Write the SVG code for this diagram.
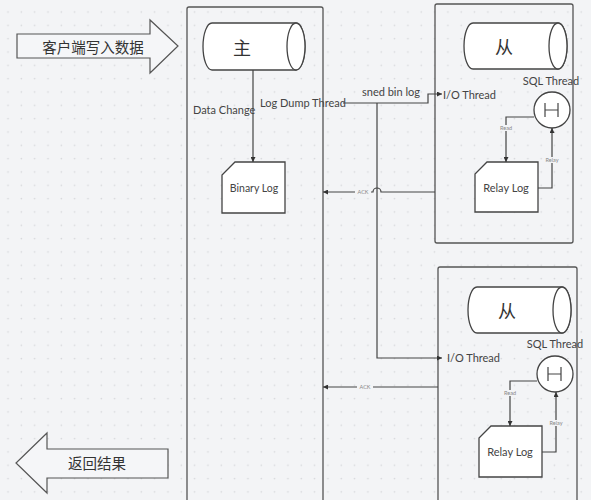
<svg xmlns="http://www.w3.org/2000/svg" width="591" height="500" viewBox="0 0 591 500">
<defs>
<pattern id="dots" x="0" y="0" width="13.33" height="13.33" patternUnits="userSpaceOnUse">
<circle cx="8" cy="12" r="0.8" fill="#d6d7da"/>
</pattern>
<marker id="arr" viewBox="0 0 6 6" refX="6" refY="3" markerWidth="5" markerHeight="5" orient="auto" markerUnits="userSpaceOnUse">
<path d="M0,0 L6,3 L0,6 Z" fill="#333"/>
</marker>
<style>
.box{fill:none;stroke:#555;stroke-width:1.3}
.shape{fill:#fff;stroke:#444;stroke-width:1.3}
.big{fill:#f5f6f8;stroke:#555;stroke-width:1.2}
.ln{fill:none;stroke:#444;stroke-width:1.2}
.t{font-family:Lato,"Open Sans","Noto Sans",sans-serif;fill:#444;font-size:11px}
.cn{font-family:"Noto Sans CJK SC",sans-serif;fill:#333;font-size:14.5px}
.sm{font-family:Lato,"Noto Sans",sans-serif;fill:#888;font-size:5.5px}
</style>
</defs>
<rect width="591" height="500" fill="#f3f4f6"/>
<rect width="591" height="500" fill="url(#dots)"/>

<g id="client-write">
<polygon class="big" points="17,34 150,34 150,20 178,46 150,73 150,58 17,58"/>
<text class="cn" x="93" y="53" text-anchor="middle">客户端写入数据</text>
</g>
<g id="return-result">
<polygon class="big" points="168,449 47,449 47,433 16,463 47,493 47,478 168,478"/>
<text class="cn" x="97" y="469" text-anchor="middle">返回结果</text>
</g>

<g id="master">
<rect class="box" x="187" y="7" width="136" height="500" rx="2"/>
<path class="shape" d="M212,23 L296,23 A9,23.5 0 0 1 296,70 L212,70 A9,23.5 0 0 1 212,23 Z"/>
<ellipse class="shape" cx="296" cy="46.5" rx="9" ry="23.5"/>
<text class="cn" x="242" y="55" text-anchor="middle" style="font-size:18px">主</text>
</g>
<g id="binary-log">
<path class="shape" d="M235,162 L285,162 L285,213 L222,213 L222,175 Z"/>
<text class="t" x="254" y="192" text-anchor="middle" style="font-size:10.5px">Binary Log</text>
</g>

<g id="slave1">
<rect class="box" x="435" y="4" width="138" height="239" rx="2"/>
<path class="shape" d="M473,23 L558,23 A9,23 0 0 1 558,69 L473,69 A9,23 0 0 1 473,23 Z"/>
<ellipse class="shape" cx="558" cy="46" rx="9" ry="23"/>
<text class="cn" x="504" y="54" text-anchor="middle" style="font-size:18px">从</text>
<text class="t" x="551" y="85" text-anchor="middle">SQL Thread</text>
<text class="t" x="443" y="99">I/O Thread</text>
</g>
<g id="sql-thread1">
<circle class="shape" cx="552" cy="110" r="18"/>
<path class="ln" d="M545,103 V117 M558,103 V117 M545,110 H558"/>
</g>
<g id="relay-log1">
<path class="shape" d="M487,162 L538,162 L538,212 L475,212 L475,174 Z"/>
<text class="t" x="506" y="192" text-anchor="middle">Relay Log</text>
</g>

<g id="slave2">
<rect class="box" x="438" y="267" width="139" height="240" rx="2"/>
<path class="shape" d="M477,287 L562,287 A9,23 0 0 1 562,333 L477,333 A9,23 0 0 1 477,287 Z"/>
<ellipse class="shape" cx="562" cy="310" rx="9" ry="23"/>
<text class="cn" x="507" y="318" text-anchor="middle" style="font-size:18px">从</text>
<text class="t" x="555" y="348" text-anchor="middle">SQL Thread</text>
<text class="t" x="447" y="362">I/O Thread</text>
</g>
<g id="sql-thread2">
<circle class="shape" cx="555" cy="374" r="18"/>
<path class="ln" d="M548,367 V381 M561,367 V381 M548,374 H561"/>
</g>
<g id="relay-log2">
<path class="shape" d="M491,426 L542,426 L542,477 L479,477 L479,438 Z"/>
<text class="t" x="510" y="456" text-anchor="middle">Relay Log</text>
</g>

<g id="connectors">
<line class="ln" x1="253" y1="70" x2="253" y2="162" marker-end="url(#arr)"/>
<text class="t" x="193" y="114">Data Change</text>
<text class="t" x="260" y="107">Log Dump Thread</text>
<polyline class="ln" points="343,103 428,103 428,94 442,94" marker-end="url(#arr)"/>
<text class="t" x="362" y="96">sned bin log</text>
<polyline class="ln" points="377,103 377,358 442,358" marker-end="url(#arr)"/>
<path class="ln" d="M435,192 H381 A4,4 0 0 0 373,192 H323" marker-end="url(#arr)"/>
<rect x="355" y="189" width="16" height="6" fill="#f3f4f6"/>
<text class="sm" x="363" y="194" text-anchor="middle">ACK</text>
<line class="ln" x1="438" y1="387" x2="323" y2="387" marker-end="url(#arr)"/>
<rect x="357" y="384" width="16" height="6" fill="#f3f4f6"/>
<text class="sm" x="365" y="389" text-anchor="middle">ACK</text>
<polyline class="ln" points="534,117 506,117 506,162" marker-end="url(#arr)"/>
<rect x="498" y="125" width="16" height="6" fill="#f3f4f6"/>
<text class="sm" x="506" y="130" text-anchor="middle">Read</text>
<polyline class="ln" points="538,188 552,188 552,128" marker-end="url(#arr)"/>
<rect x="543" y="157" width="18" height="6" fill="#f3f4f6"/>
<text class="sm" x="552" y="162" text-anchor="middle">Relay</text>
<polyline class="ln" points="537,381 510,381 510,426" marker-end="url(#arr)"/>
<rect x="502" y="390" width="16" height="6" fill="#f3f4f6"/>
<text class="sm" x="510" y="395" text-anchor="middle">Read</text>
<polyline class="ln" points="542,452 556,452 556,392" marker-end="url(#arr)"/>
<rect x="547" y="420" width="18" height="6" fill="#f3f4f6"/>
<text class="sm" x="556" y="425" text-anchor="middle">Relay</text>
</g>
</svg>
